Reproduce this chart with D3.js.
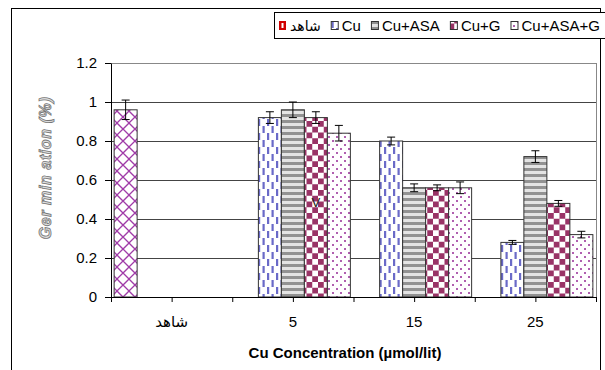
<!DOCTYPE html>
<html>
<head>
<meta charset="utf-8">
<script src="https://cdn.jsdelivr.net/npm/d3@7"></script>
<style>
  body { margin: 0; background: #fff; }
  text { font-family: "Liberation Sans", Arial, "DejaVu Sans", sans-serif; }
</style>
</head>
<body>
<div id="chart"></div>
<script>
// data
const categories = ["شاهد", "5", "15", "25"];
const seriesNames = ["شاهد", "Cu", "Cu+ASA", "Cu+G", "Cu+ASA+G"];

const controlValues = [0.96, 0, 0, 0];
const cuValues = [0, 0.92, 0.80, 0.28];
const cuAsaValues = [0, 0.96, 0.56, 0.72];
const cuGValues = [0, 0.92, 0.56, 0.48];
const cuAsaGValues = [0, 0.84, 0.56, 0.32];

const controlErr = [0.05, 0, 0, 0];
const cuErr = [0, 0.03, 0.02, 0.01];
const cuAsaErr = [0, 0.04, 0.02, 0.03];
const cuGErr = [0, 0.03, 0.015, 0.015];
const cuAsaGErr = [0, 0.04, 0.03, 0.017];

const yTicks = [0, 0.2, 0.4, 0.6, 0.8, 1, 1.2];
const notes = [{ cat: "5", series: "Cu+G", value: 0.48, text: "V" }];

const allValues = [controlValues, cuValues, cuAsaValues, cuGValues, cuAsaGValues];
const allErrs = [controlErr, cuErr, cuAsaErr, cuGErr, cuAsaGErr];
const patternIds = ["pControl", "pCu", "pAsa", "pG", "pAsaG"];

const dims = {
    width: 605,
    height: 370,
    margin: { left: 111, right: 9, top: 63, bottom: 73 }
};
dims.boundedWidth = dims.width - dims.margin.left - dims.margin.right;
dims.boundedHeight = dims.height - dims.margin.top - dims.margin.bottom;

const svg = d3.select("#chart")
    .append("svg")
    .attr("width", dims.width)
    .attr("height", dims.height);

//#region patterns
const defs = svg.append("defs");

const pc = defs.append("pattern").attr("id", "pControl")
    .attr("patternUnits", "userSpaceOnUse").attr("width", 12).attr("height", 12)
    .attr("x", 114).attr("y", 0);
pc.append("rect").attr("width", 12).attr("height", 12).attr("fill", "#fff");
pc.append("path").attr("d", "M0,0 L6,6 L12,0 M6,6 L0,12 M12,12 L6,6")
    .attr("stroke", "#a03ca8").attr("stroke-width", 1.3).attr("fill", "none");

const pcu = defs.append("pattern").attr("id", "pCu")
    .attr("patternUnits", "userSpaceOnUse").attr("width", 9).attr("height", 14)
    .attr("x", 2).attr("y", 0);
pcu.append("rect").attr("width", 9).attr("height", 14).attr("fill", "#fff");
pcu.append("rect").attr("x", 1).attr("y", 0).attr("width", 2.2).attr("height", 7).attr("fill", "#6a6ac8");
pcu.append("rect").attr("x", 5.5).attr("y", 7).attr("width", 2.2).attr("height", 7).attr("fill", "#6a6ac8");

const pa = defs.append("pattern").attr("id", "pAsa")
    .attr("patternUnits", "userSpaceOnUse").attr("width", 6).attr("height", 6);
pa.append("rect").attr("width", 6).attr("height", 6).attr("fill", "#e4e4e4");
pa.append("rect").attr("y", 3).attr("width", 6).attr("height", 3).attr("fill", "#929292");

const pg = defs.append("pattern").attr("id", "pG")
    .attr("patternUnits", "userSpaceOnUse").attr("width", 11.5).attr("height", 11.5)
    .attr("x", 0).attr("y", 0.5);
pg.append("rect").attr("width", 11.5).attr("height", 11.5).attr("fill", "#fff");
pg.append("rect").attr("width", 5.75).attr("height", 5.75).attr("fill", "#993366");
pg.append("rect").attr("x", 5.75).attr("y", 5.75).attr("width", 5.75).attr("height", 5.75).attr("fill", "#993366");

const pd = defs.append("pattern").attr("id", "pAsaG")
    .attr("patternUnits", "userSpaceOnUse").attr("width", 8).attr("height", 8);
pd.append("rect").attr("width", 8).attr("height", 8).attr("fill", "#fff");
pd.append("rect").attr("x", 1).attr("y", 1).attr("width", 2).attr("height", 2).attr("fill", "#b060b0");
pd.append("rect").attr("x", 5).attr("y", 5).attr("width", 2).attr("height", 2).attr("fill", "#b060b0");
//#endregion

// outer chart frame
svg.append("rect")
    .attr("x", 11.5).attr("y", 8.5)
    .attr("width", 589).attr("height", 400)
    .attr("fill", "none").attr("stroke", "#000");

const bounds = svg.append("g")
    .attr("transform", `translate(${dims.margin.left},${dims.margin.top})`);

const xScale = d3.scaleBand()
    .domain(categories)
    .range([0, dims.boundedWidth]);

const xInner = d3.scaleBand()
    .domain(seriesNames)
    .range([0, xScale.bandwidth()])
    .paddingOuter(0.136);

const yScale = d3.scaleLinear()
    .domain([0, 1.2])
    .range([dims.boundedHeight, 0]);

// gridlines
bounds.append("g")
    .selectAll("line")
    .data(yTicks.filter(d => d > 0 && d < 1.2))
    .join("line")
    .attr("x1", 0).attr("x2", dims.boundedWidth)
    .attr("y1", d => Math.round(yScale(d)) + 0.5)
    .attr("y2", d => Math.round(yScale(d)) + 0.5)
    .attr("stroke", "#444");

// plot frame
bounds.append("rect")
    .attr("x", 0.5).attr("y", 0.5)
    .attr("width", dims.boundedWidth).attr("height", dims.boundedHeight)
    .attr("fill", "none").attr("stroke", "#888");

// bars
const barData = [];
seriesNames.forEach((s, si) => {
    categories.forEach((c, ci) => {
        barData.push({ cat: c, series: s, si, value: allValues[si][ci], err: allErrs[si][ci] });
    });
});

bounds.append("g")
    .selectAll("rect")
    .data(barData)
    .join("rect")
    .attr("x", d => xScale(d.cat) + xInner(d.series))
    .attr("y", d => yScale(d.value))
    .attr("width", xInner.bandwidth())
    .attr("height", d => yScale(0) - yScale(d.value))
    .attr("fill", d => `url(#${patternIds[d.si]})`)
    .attr("stroke", d => d.value > 0 ? "#333" : "#aaa")
    .attr("stroke-width", 1);

// error bars
const errG = bounds.append("g").attr("stroke", "#000").attr("stroke-width", 1);
barData.filter(d => d.err > 0).forEach(d => {
    const cx = xScale(d.cat) + xInner(d.series) + xInner.bandwidth() / 2;
    const y1 = yScale(d.value + d.err), y2 = yScale(d.value - d.err);
    errG.append("line").attr("x1", cx).attr("x2", cx).attr("y1", y1).attr("y2", y2);
    errG.append("line").attr("x1", cx - 4).attr("x2", cx + 4).attr("y1", y1).attr("y2", y1);
    errG.append("line").attr("x1", cx - 4).attr("x2", cx + 4).attr("y1", y2).attr("y2", y2);
});

// annotation
bounds.selectAll(".note")
    .data(notes)
    .join("text")
    .attr("class", "note")
    .attr("x", d => xScale(d.cat) + xInner(d.series) + xInner.bandwidth() / 2)
    .attr("y", d => yScale(d.value) + 4)
    .attr("text-anchor", "middle")
    .attr("font-size", 13)
    .attr("fill", "#222")
    .text(d => d.text);

//#region axes
const yAxis = d3.axisLeft(yScale)
    .tickValues(yTicks)
    .tickFormat(d => String(+d.toFixed(1)))
    .tickSize(6)
    .tickSizeOuter(0)
    .tickPadding(8);
const gy = bounds.append("g").call(yAxis);
gy.selectAll("text").attr("font-size", 15).attr("fill", "#000");
gy.selectAll("line, path").attr("stroke", "#000");

const tickScale = d3.scaleLinear().domain([0, 8]).range([0, dims.boundedWidth]);
const gxTicks = bounds.append("g")
    .attr("transform", `translate(0,${dims.boundedHeight})`)
    .call(d3.axisBottom(tickScale).tickValues(d3.range(9)).tickFormat("").tickSize(5).tickSizeOuter(0));
gxTicks.selectAll("line, path").attr("stroke", "#000");

const gxLabels = bounds.append("g")
    .attr("transform", `translate(0,${dims.boundedHeight})`)
    .call(d3.axisBottom(xScale).tickSize(0).tickPadding(19));
gxLabels.select(".domain").remove();
gxLabels.selectAll("text").attr("font-size", 15).attr("fill", "#000");
//#endregion

// axis titles
svg.append("text")
    .attr("x", 345).attr("y", 358)
    .attr("text-anchor", "middle")
    .attr("font-size", 15).attr("font-weight", "bold")
    .text("Cu Concentration (µmol/lit)");

svg.append("text")
    .attr("transform", "translate(51,168) rotate(-90)")
    .attr("text-anchor", "middle")
    .attr("font-size", 16).attr("font-weight", "bold").attr("font-style", "italic")
    .attr("letter-spacing", 0.6)
    .attr("fill", "#ddd").attr("stroke", "#777").attr("stroke-width", 0.8)
    .text("Ger min ation (%)");

//#region legend
const legend = svg.append("g");
legend.append("rect")
    .attr("x", 274.5).attr("y", 12.5)
    .attr("width", 340).attr("height", 26)
    .attr("fill", "#fff").attr("stroke", "#000");

let lx = 279;
seriesNames.forEach((s, i) => {
    const item = legend.append("g");
    if (i === 0) {
        item.append("rect").attr("x", lx).attr("y", 21).attr("width", 7).attr("height", 9).attr("fill", "#d00000");
        item.append("rect").attr("x", lx + 2.5).attr("y", 23).attr("width", 2).attr("height", 5).attr("fill", "#fff");
    } else {
        item.append("rect").attr("x", lx + 0.5).attr("y", 21.5).attr("width", 7).attr("height", 8)
            .attr("fill", `url(#${patternIds[i]})`).attr("stroke", "#333");
    }
    const t = item.append("text")
        .attr("x", lx + 11).attr("y", 31)
        .attr("font-size", i === 0 ? 14 : 15)
        .text(s);
    const w = t.node().getComputedTextLength();
    lx += 11 + w + 10;
});
//#endregion
</script>
</body>
</html>
